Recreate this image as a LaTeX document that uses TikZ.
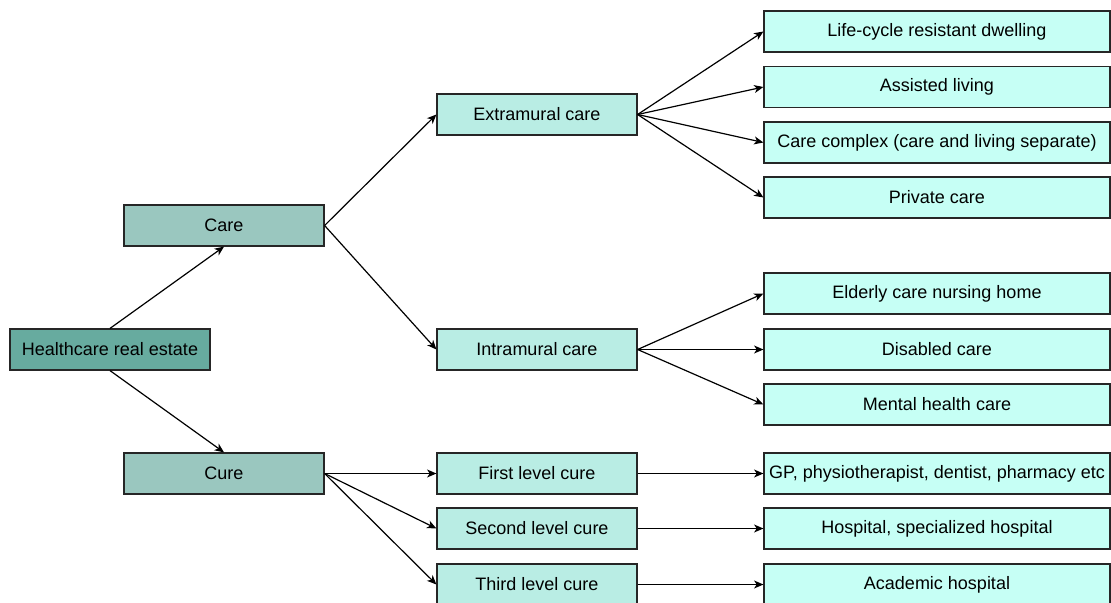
\documentclass[tikz,border=0pt]{standalone}
\usepackage{fontspec}
\setmainfont{Liberation Sans}
\usetikzlibrary{arrows.meta}
\definecolor{rootfill}{HTML}{67AB9F}
\definecolor{typefill}{HTML}{9AC7BF}
\definecolor{kindfill}{HTML}{B9EDE4}
\definecolor{leaffill}{HTML}{C6FFF5}
\begin{document}
\begin{tikzpicture}[x=0.75pt,y=-0.75pt,
  box/.style={draw=black!85,line width=0.9pt,minimum width=150pt,minimum height=30.75pt,
    inner sep=0pt,font=\fontsize{13.5}{16}\selectfont},
  leafbox/.style={box,fill=leaffill,minimum width=259.5pt},
  link/.style={line width=0.9pt,-{Stealth[length=7pt,width=6pt,inset=2pt]}}]
\clip (0,0) rectangle (1111,603);
% left part
\node [box,fill=rootfill] (hre) at (110,349.5) {Healthcare real estate};
\node [box,fill=typefill] (care) at (224,225.5) {Care};
\node [box,fill=typefill] (cure) at (224,473.5) {Cure};
\node [box,fill=kindfill] (extra) at (537,114.5) {Extramural care};
\node [box,fill=kindfill] (intra) at (537,349.5) {Intramural care};
\node [box,fill=kindfill] (first) at (537,473.5) {First level cure};
\node [box,fill=kindfill] (second) at (537,528.5) {Second level cure};
\node [box,fill=kindfill] (third) at (537,584.5) {Third level cure};
% right column
\node [leafbox] (lifecycle) at (937,31.5) {Life-cycle resistant dwelling};
\node [leafbox] (assisted) at (937,87) {Assisted living};
\node [leafbox] (complex) at (937,142.5) {Care complex (care and living separate)};
\node [leafbox] (private) at (937,197.5) {Private care};
\node [leafbox] (elderly) at (937,293.5) {Elderly care nursing home};
\node [leafbox] (disabled) at (937,349.5) {Disabled care};
\node [leafbox] (mental) at (937,404.5) {Mental health care};
\node [leafbox] (gp) at (937,473.5) {GP, physiotherapist, dentist, pharmacy etc};
\node [leafbox] (hospital) at (937,528.5) {Hospital, specialized hospital};
\node [leafbox] (academic) at (937,584.5) {Academic hospital};
% connectors
\draw [link] (hre.north) -- (care.south);
\draw [link] (hre.south) -- (cure.north);
\draw [link] (care.east) -- (extra.west);
\draw [link] (care.east) -- (intra.west);
\foreach \t in {first,second,third}
  \draw [link] (cure.east) -- (\t.west);
\foreach \t in {lifecycle,assisted,complex,private}
  \draw [link] (extra.east) -- (\t.west);
\foreach \t in {elderly,disabled,mental}
  \draw [link] (intra.east) -- (\t.west);
\draw [link] (first.east) -- (gp.west);
\draw [link] (second.east) -- (hospital.west);
\draw [link] (third.east) -- (academic.west);
\end{tikzpicture}
\end{document}
